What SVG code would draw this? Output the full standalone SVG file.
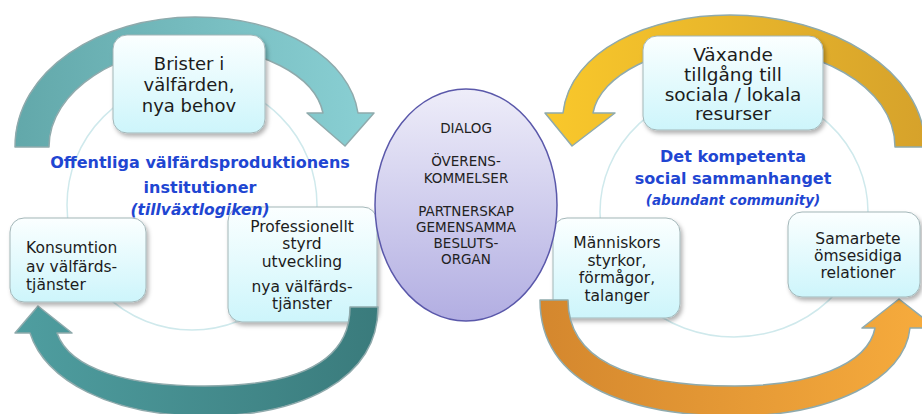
<svg xmlns="http://www.w3.org/2000/svg" width="922" height="414" viewBox="0 0 922 414">
<defs>
  <linearGradient id="boxFill" x1="0" y1="0" x2="0" y2="1">
    <stop offset="0" stop-color="#fbffff"/>
    <stop offset="1" stop-color="#cdf5fb"/>
  </linearGradient>
  <linearGradient id="ellFill" x1="0" y1="0" x2="0" y2="1">
    <stop offset="0" stop-color="#eeedf9"/>
    <stop offset="1" stop-color="#b2aee2"/>
  </linearGradient>
  <linearGradient id="gTealTop" gradientUnits="userSpaceOnUse" x1="15" y1="0" x2="375" y2="0">
    <stop offset="0" stop-color="#62a8aa"/>
    <stop offset="1" stop-color="#8ad0d4"/>
  </linearGradient>
  <linearGradient id="gTealBot" gradientUnits="userSpaceOnUse" x1="15" y1="0" x2="378" y2="0">
    <stop offset="0" stop-color="#4f9ea0"/>
    <stop offset="1" stop-color="#3a7b7c"/>
  </linearGradient>
  <linearGradient id="gYellow" gradientUnits="userSpaceOnUse" x1="545" y1="0" x2="925" y2="0">
    <stop offset="0" stop-color="#f9c82b"/>
    <stop offset="1" stop-color="#d6a22b"/>
  </linearGradient>
  <linearGradient id="gOrange" gradientUnits="userSpaceOnUse" x1="540" y1="0" x2="936" y2="0">
    <stop offset="0" stop-color="#d4872e"/>
    <stop offset="1" stop-color="#f7ac3d"/>
  </linearGradient>
  <filter id="shadow" x="-10%" y="-10%" width="125%" height="130%">
    <feDropShadow dx="2" dy="3" stdDeviation="2" flood-color="#000" flood-opacity="0.3"/>
  </filter>
</defs>
<style>
  .box { fill: url(#boxFill); stroke: #a3b6b8; stroke-width: 1; filter: url(#shadow); }
  .bt { font-family: "DejaVu Sans", Verdana, sans-serif; fill: #1c1c1c; text-anchor: middle; }
  .st { text-anchor: start; }
  .t16 { font-size: 15.5px; }
  .t18 { font-size: 18px; }
  .t19 { font-size: 18.5px; }
  .et { font-family: "DejaVu Sans", Verdana, sans-serif; font-size: 13.5px; fill: #222; text-anchor: middle; }
  .title { font-family: "DejaVu Sans", Verdana, sans-serif; font-weight: bold; fill: #1f46d2; text-anchor: middle; }
  .ring { fill: none; stroke: #cfe9ec; stroke-width: 1.5; }
  .arrow { stroke: #8faaac; stroke-width: 1.5; stroke-linejoin: round; }
</style>

<rect width="922" height="414" fill="#ffffff"/>

<g id="rings">
  <circle class="ring" cx="192" cy="205" r="125"/>
  <ellipse class="ring" cx="734" cy="212" rx="134" ry="125"/>
</g>

<g id="node-professionellt">
  <rect class="box" x="228" y="207" width="149" height="115" rx="14"/>
  <text class="bt t16" x="302" y="232">Professionellt</text>
  <text class="bt t16" x="302" y="249">styrd</text>
  <text class="bt t16" x="302" y="267">utveckling</text>
  <text class="bt t16" x="302" y="292">nya välfärds-</text>
  <text class="bt t16" x="302" y="309">tjänster</text>
</g>

<g id="node-manniskors">
  <rect class="box" x="553" y="218" width="127" height="100" rx="14"/>
  <text class="bt t16" x="617" y="248">Människors</text>
  <text class="bt t16" x="617" y="266">styrkor,</text>
  <text class="bt t16" x="617" y="283">förmågor,</text>
  <text class="bt t16" x="617" y="301">talanger</text>
</g>

<g id="connectors">
  <path class="arrow" fill="url(#gTealTop)" d="M 15,147 C 15,70 100,17 195,17 C 285,17 350,60 358,113 L 374,113 L 345,146 L 307,113 L 323,113 C 315,75 260,47 195,47 C 120,47 49,90 49,147 Z"/>
  <path class="arrow" fill="url(#gTealBot)" d="M 378,307 C 378,380 300,416 205,416 C 110,416 45,380 30,333 L 15,333 L 38,306 L 72,333 L 57,333 C 70,370 130,386 205,386 C 290,386 350,365 350,307 Z"/>
  <path class="arrow" fill="url(#gYellow)" d="M 563,113 C 570,50 650,15 730,15 C 830,15 925,70 925,147 L 895,147 C 895,85 815,45 730,45 C 660,45 600,75 593,113 L 615,113 L 572,146 L 545,113 Z"/>
  <path class="arrow" fill="url(#gOrange)" d="M 540,300 C 540,390 640,416 735,416 C 830,416 905,380 910,328 L 936,328 L 899,299 L 862,328 L 875,328 C 868,365 810,386 735,386 C 650,386 568,370 568,300 Z"/>
</g>

<g id="node-brister">
  <rect class="box" x="113" y="35" width="152" height="98" rx="14"/>
  <text class="bt t18" x="189" y="70">Brister i</text>
  <text class="bt t18" x="189" y="91">välfärden,</text>
  <text class="bt t18" x="189" y="112">nya behov</text>
</g>

<g id="node-vaxande">
  <rect class="box" x="643" y="36" width="180" height="94" rx="14"/>
  <text class="bt t19" x="733" y="61">Växande</text>
  <text class="bt t19" x="733" y="81">tillgång till</text>
  <text class="bt t19" x="733" y="101">sociala / lokala</text>
  <text class="bt t19" x="733" y="120">resurser</text>
</g>

<g id="node-konsumtion">
  <rect class="box" x="10" y="218" width="136" height="84" rx="14"/>
  <text class="bt t16 st" x="26" y="253">Konsumtion</text>
  <text class="bt t16 st" x="26" y="272">av välfärds-</text>
  <text class="bt t16 st" x="26" y="290">tjänster</text>
</g>

<g id="node-samarbete">
  <rect class="box" x="788" y="212" width="132" height="85" rx="14"/>
  <text class="bt t16" x="858" y="244">Samarbete</text>
  <text class="bt t16" x="858" y="261">ömsesidiga</text>
  <text class="bt t16" x="858" y="278">relationer</text>
</g>

<g id="node-dialog">
  <ellipse cx="466" cy="205" rx="91" ry="116" fill="url(#ellFill)" stroke="#5a58aa" stroke-width="1.5"/>
  <text class="et" x="466" y="133">DIALOG</text>
  <text class="et" x="466" y="166">ÖVERENS-</text>
  <text class="et" x="466" y="183">KOMMELSER</text>
  <text class="et" x="466" y="216">PARTNERSKAP</text>
  <text class="et" x="466" y="232">GEMENSAMMA</text>
  <text class="et" x="466" y="248">BESLUTS-</text>
  <text class="et" x="466" y="264">ORGAN</text>
</g>

<g id="title-left">
  <text class="title" x="200" y="168" font-size="16">Offentliga välfärdsproduktionens</text>
  <text class="title" x="200" y="193" font-size="16">institutioner</text>
  <text class="title" x="200" y="215" font-size="15.5" font-style="italic">(tillväxtlogiken)</text>
</g>

<g id="title-right">
  <text class="title" x="733" y="162" font-size="16">Det kompetenta</text>
  <text class="title" x="733" y="184" font-size="16">social sammanhanget</text>
  <text class="title" x="733" y="205" font-size="13.5" font-style="italic">(abundant community)</text>
</g>
</svg>
